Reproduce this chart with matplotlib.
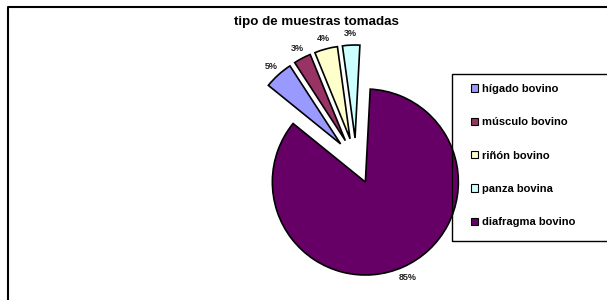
import matplotlib
matplotlib.use("Agg")
import matplotlib.pyplot as plt
from matplotlib.patches import Rectangle, Patch
from matplotlib.lines import Line2D

plt.rcParams['font.family'] = ['Liberation Sans', 'DejaVu Sans']

title = "tipo de muestras tomadas"
categories = ["hígado bovino", "músculo bovino", "riñón bovino", "panza bovina", "diafragma bovino"]
values = [5, 3, 4, 3, 85]
colors = ["#9999FF", "#993366", "#FFFFCC", "#CCFFFF", "#660066"]

W, H = 607, 300
fig = plt.figure(figsize=(W / 100, H / 100), dpi=100)
ax = fig.add_axes([0, 0, 1, 1])

cx, cy, R = 356, 139, 93
start = 141
wedges, texts, autotexts = ax.pie(
    values, colors=colors, startangle=start, counterclock=False,
    explode=[23] * len(values), center=(cx, cy), radius=R,
    autopct='%1.0f%%', pctdistance=1.12,
    wedgeprops=dict(edgecolor='black', linewidth=1.2),
    textprops=dict(fontsize=6.5, fontweight='bold', color='#222222'),
)

ax.set_aspect('auto')
ax.set_xlim(0, W)
ax.set_ylim(0, H)
ax.axis('off')

# chart border (top and left visible)
ax.add_line(Line2D([8, 8, W + 5], [-5, H - 7, H - 7], color='black', lw=1.5))

ax.text(316, H - 22, title, ha='center', va='center', fontsize=9.6, fontweight='bold')

# legend box (transparent, drawn over the pie)
ax.add_patch(Rectangle((452, H - 241), 170, 167, facecolor='none', edgecolor='black', lw=1.0, zorder=3))
handles = [Patch(facecolor=c, edgecolor='black', linewidth=0.8) for c in colors]
leg = ax.legend(handles, categories, loc='upper left', bbox_to_anchor=(471, H - 84),
                bbox_transform=ax.transData, frameon=False,
                prop=dict(weight='bold', size=8), handlelength=0.65, handleheight=0.65,
                handletextpad=0.3, labelspacing=2.1, borderpad=0, borderaxespad=0)
leg.set_zorder(4)

fig.savefig("out.png", dpi=100)
